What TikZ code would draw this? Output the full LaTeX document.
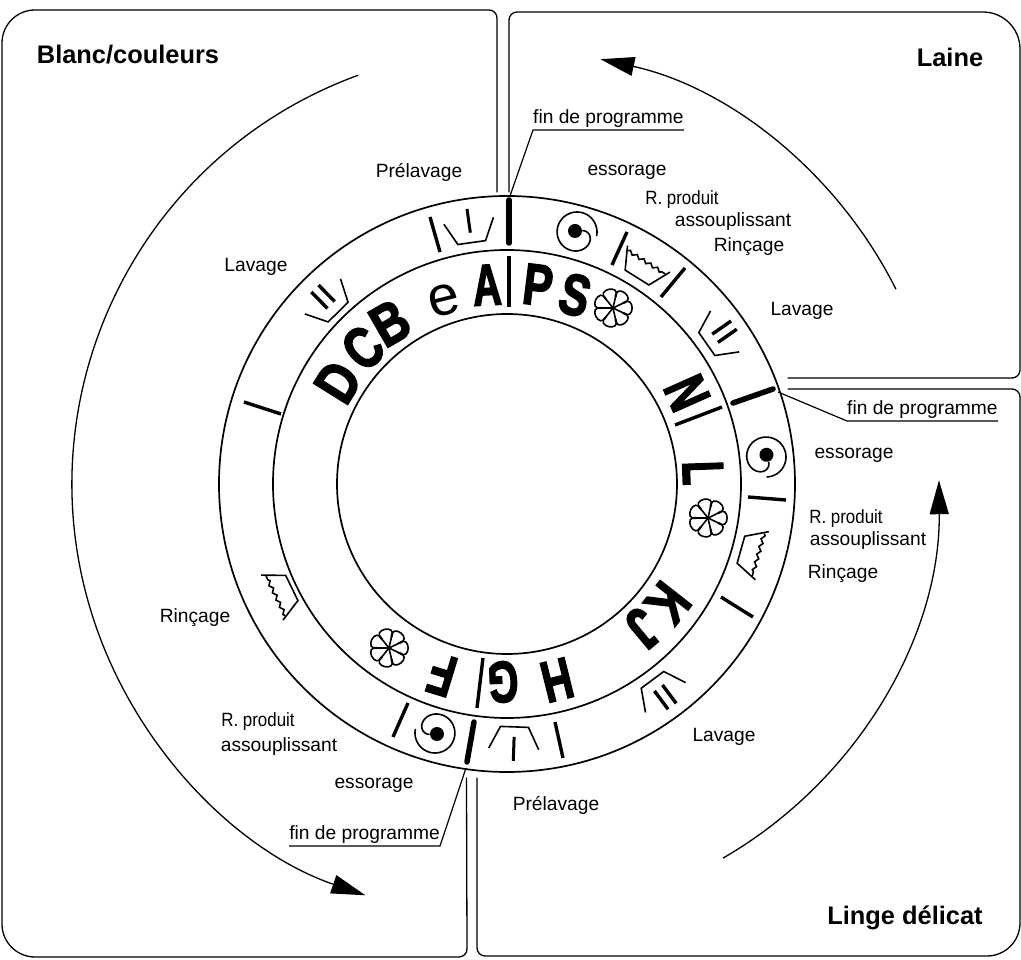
\documentclass[tikz,border=0pt]{standalone}
\usepackage{fontspec}
\setmainfont{Liberation Sans}
\newfontfamily\dialfont[BoldFeatures={FakeBold=3}]{Liberation Sans}
\usepackage{xcolor}
\usetikzlibrary{arrows.meta, decorations.pathmorphing}

\tikzset{
  panel/.style={line width=1.3pt, line cap=round},
  ringline/.style={line width=1.7pt},
  thintick/.style={line width=3.4pt},
  thicktick/.style={line width=5.5pt, line cap=round},
  lab/.style={font=\fontsize{19.2}{21}\selectfont, inner sep=0pt},
  title/.style={font=\fontsize{25.4}{27}\selectfont\bfseries, inner sep=0pt},
  ringletter/.style={font=\fontsize{58}{58}\dialfont\bfseries, inner sep=0pt},
  finlab/.style={lab, inner xsep=0pt, inner ysep=2.5pt},
  leader/.style={line width=1.2pt},
  progarrow/.style={line width=1.3pt, -{Triangle[length=34pt,width=19pt]}},
  tubprelav/.pic={
    \draw[line width=1.6pt] (-25,11) -- (-14,-11) -- (14,-11) -- (25,11);
    \draw[line width=3pt] (0,-1) -- (0,23);
  },
  tublav/.pic={
    \draw[line width=1.6pt] (-25,11) -- (-14,-11) -- (14,-11) -- (25,11);
    \draw[line width=3.4pt] (-5,-1) -- (-5,22);
    \draw[line width=3.4pt] (5,-1) -- (5,22);
  },
  tubrinc/.pic={
    \draw[line width=1.6pt] (-25,11) -- (-14,-11) -- (14,-11) -- (25,11);
    \draw[line width=1.6pt, decorate, decoration={zigzag, segment length=8pt, amplitude=1.6pt}] (-22,7) -- (22,7);
  },
  spin/.pic={
    \draw[line width=1.6pt] plot[domain=-15:372, samples=70, smooth] ({-\x}:{20-10*exp(-\x/40)});
    \fill (-2,1) circle (7);
  },
  flower/.pic={
    \foreach \i in {0,...,6} {
      \draw[line width=1.6pt] (0,0) -- ({\i*360/7-25.7}:10.5) .. controls ({\i*360/7-34}:27) and ({\i*360/7+34}:27) .. ({\i*360/7+25.7}:10.5);
    }
  },
}

\begin{document}
\begin{tikzpicture}[x=1pt, y=1pt]
\useasboundingbox (-507,-476) rectangle (514,484);
% panels
\draw[panel] (-10,292) -- (-10,466) arc[start angle=0, end angle=90, radius=8] -- (-472,474) arc[start angle=90, end angle=180, radius=33] -- (-505,-440) arc[start angle=180, end angle=270, radius=33] -- (-48,-473) arc[start angle=270, end angle=360, radius=8] -- (-40.5,-294);
\draw[panel] (2,292) -- (2,464) arc[start angle=180, end angle=90, radius=8] -- (476,472) arc[start angle=90, end angle=0, radius=37] -- (513,114) arc[start angle=0, end angle=-90, radius=8] -- (281,106);
\draw[panel] (281,95) -- (505,95) arc[start angle=90, end angle=0, radius=8] -- (513,-439) arc[start angle=0, end angle=-90, radius=33] -- (-22,-472) arc[start angle=270, end angle=180, radius=8] -- (-30,-294);
% dial
\draw[ringline] (0,0) circle (288);
\draw[ringline] (0,0) circle (234);
\draw[ringline] (0,0) circle (170);
\foreach \ax/\ay/\bx/\by in {-77/267/-67/232, 120/252/105/219, 178/216/154/187, 241/-13/279/-16, 214/-113/246/-133, 48/-238/56/-274, -99/-219/-114/-253, -263/82/-226/70}
  \draw[thintick] (\ax,\ay) -- (\bx,\by);
\foreach \ax/\ay/\bx/\by in {2/284/2/241, 226/81/266/95, -33/-238/-40/-278}
  \draw[thicktick] (\ax,\ay) -- (\bx,\by);
\foreach \ax/\ay/\bx/\by in {2/228/2/177, 168/59/215/77, -24/-174/-30/-224}
  \draw[thintick] (\ax,\ay) -- (\bx,\by);
% letters
\foreach \nm/\px/\py/\rot/\sx in {A/-20/199/3/.68, P/31/199/-7/.76, S/68/189/-15/.76, B/-117/161/30/.82, C/-144/136/42/.78, D/-169/102/58/.82, N/180/91/-66/.72, L/196/11/-88/.68, K/161/-119/-128/.76, J/136/-144/-140/.76, H/50/-196/-166/.72, G/-4/-198/-178/.68, F/-65/-191/163/.72}
  \node[ringletter, rotate=\rot] (let\nm) at (\px,\py) {\scalebox{\sx}[1]{\nm}};
\node[ringletter, font=\fontsize{56}{56}\selectfont, rotate=14] (lete) at (-63,184) {e};
% symbols
\pic[rotate=8] at (98.3:255) {tubprelav};
\pic[rotate=178] at (-88.4:254) {tubprelav};
\pic[rotate=44.5] at (134.5:252) {tublav};
\pic[rotate=-55] at (35:255) {tublav};
\pic[rotate=-143.4] at (-53.4:255) {tublav};
\pic[rotate=-32] at (57.8:255) {tubrinc};
\pic[rotate=-105.7] at (-15.7:254) {tubrinc};
\pic[rotate=116] at (-154.2:250) {tubrinc};
\pic at (70,252) {spin};
\pic[rotate=-76] at (259,27) {spin};
\pic[rotate=180] at (-72,-249) {spin};
\pic at (106,176) {flower};
\pic at (201,-34) {flower};
\pic at (-118,-164) {flower};
% labels
\node[lab] (pre1) at (-88,312) {Prélavage};
\node[lab] (ess1) at (120,312) {essorage};
\node[lab] (rp1) at (175,284) {\scalebox{.88}[1]{R. produit}};
\node[lab] (ass1) at (226,262) {assouplissant};
\node[lab] (rin1) at (242,237) {Rinçage};
\node[lab] (lav1) at (295,173) {Lavage};
\node[lab] (ess2) at (347,29) {essorage};
\node[lab] (rp2) at (339,-35) {\scalebox{.88}[1]{R. produit}};
\node[lab] (ass2) at (361,-57) {assouplissant};
\node[lab] (rin2) at (336,-90) {Rinçage};
\node[lab] (lav2) at (217,-253) {Lavage};
\node[lab] (pre2) at (49,-321) {Prélavage};
\node[lab] (ess3) at (-133,-301) {essorage};
\node[lab] (rin3) at (-312,-134) {Rinçage};
\node[lab] (rp3) at (-249,-238) {\scalebox{.88}[1]{R. produit}};
\node[lab] (ass3) at (-228,-263) {assouplissant};
\node[lab] (lav3) at (-251,217) {Lavage};
\node[title] (blanc) at (-379,429) {Blanc/couleurs};
\node[title] (laine) at (443,427) {Laine};
\node[title] (linge) at (398,-434) {Linge délicat};
% end of programme leaders
\coordinate (end1) at (3,288);
\coordinate (end2) at (271,92);
\coordinate (end3) at (-41,-284);
\node[finlab, anchor=south west] (fin1) at (26,354) {fin de programme};
\node[finlab, anchor=south west] (fin2) at (340,63) {fin de programme};
\node[finlab, anchor=south east] (fin3) at (-67,-362) {fin de programme};
\draw[leader] (end1) -- (fin1.south west) -- (fin1.south east);
\draw[leader] (end2) -- (fin2.south west) -- (fin2.south east);
\draw[leader] (end3) -- (fin3.south east) -- (fin3.south west);
% arrows
\draw[progarrow] (110:435) arc[start angle=110, end angle=251, radius=435];
\draw[progarrow] (26.6:435) arc[start angle=26.6, end angle=77.6, radius=435];
\draw[progarrow] (-60:432) arc[start angle=-60, end angle=0.5, radius=432];
\end{tikzpicture}
\end{document}
